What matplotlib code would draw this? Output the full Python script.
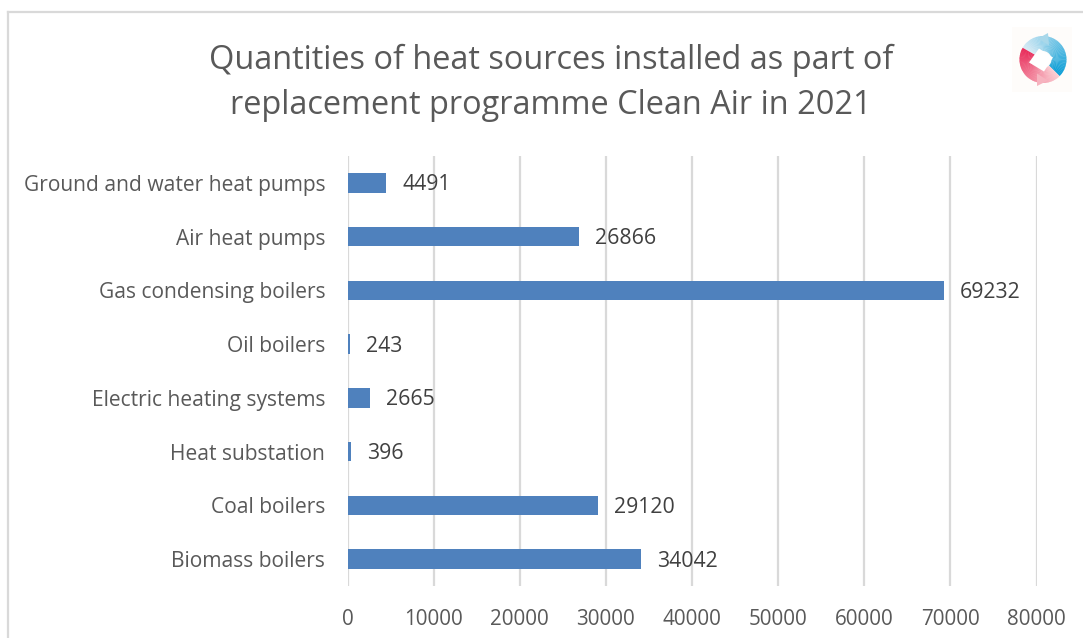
import numpy as np
import matplotlib
matplotlib.use('Agg')
import matplotlib.pyplot as plt
from matplotlib.patches import Wedge, Polygon, Rectangle

categories = ['Biomass boilers', 'Coal boilers', 'Heat substation', 'Electric heating systems',
              'Oil boilers', 'Gas condensing boilers', 'Air heat pumps', 'Ground and water heat pumps']
values = [34042, 29120, 396, 2665, 243, 69232, 26866, 4491]
x_ticks = [0, 10000, 20000, 30000, 40000, 50000, 60000, 70000, 80000]
title = 'Quantities of heat sources installed as part of\nreplacement programme Clean Air in 2021'

W, H = 1083, 638
plt.rcParams['font.family'] = 'Open Sans'
TEXT = '#595959'
GRID = '#d9d9d9'

fig = plt.figure(figsize=(W / 100, H / 100), dpi=100)

# axes box placed in pixels, y measured from the top of the picture
ax = fig.add_axes([347.5 / W, 1 - 586 / H, (1036.5 - 347.5) / W, (586 - 156) / H])
y = np.arange(len(categories))
ax.barh(y, values, height=0.36, color='#4f81bd', zorder=3)
ax.set_xlim(0, 80000)
ax.set_ylim(-0.5, 7.5)
ax.set_xticks(x_ticks)
ax.set_yticks(y)
ax.set_yticklabels(categories)
ax.grid(axis='x', color=GRID, linewidth=1.6, zorder=0)
ax.tick_params(axis='y', length=0, labelsize=15.1, labelcolor=TEXT, pad=16)
ax.tick_params(axis='x', length=0, labelsize=14.9, labelcolor=TEXT, pad=16.5)
for s in ax.spines.values():
    s.set_visible(False)

for i, v in enumerate(values):
    ax.annotate(str(v), (v, i), xytext=(16, -2), textcoords='offset pixels',
                va='center', ha='left', fontsize=15.3, color='#404040', zorder=4)

fig.text(551 / W, 1 - 83 / H, title, ha='center', va='center', fontsize=23.4,
         color=TEXT, linespacing=1.5)

# outer chart frame, left and top only are visible
fig.add_artist(plt.Line2D([7.5 / W, 7.5 / W], [0, 1 - 12 / H], color=GRID, lw=1.6))
fig.add_artist(plt.Line2D([7.5 / W, 1], [1 - 12 / H, 1 - 12 / H], color=GRID, lw=1.6))

# logo: two gradient arrows chasing each other, axes units are pixels
logo = fig.add_axes([1012 / W, 1 - 92 / H, 60 / W, 65 / H])
logo.set_xlim(-30, 30)
logo.set_ylim(-32.5, 32.5)
logo.axis('off')
logo.add_patch(Rectangle((-30, -32.5), 60, 65, color='#fefcfa', lw=0))
blue1, blue2 = np.array([0.84, 0.92, 0.96]), np.array([0.05, 0.62, 0.84])
red1, red2 = np.array([0.91, 0.18, 0.36]), np.array([0.98, 0.80, 0.82])
for k in range(48):
    t = k / 47
    a = 150 - t * 190
    logo.add_patch(Wedge((1, 0), 23.5, a - 5, a, width=15, color=blue1 + (blue2 - blue1) * t, lw=0))
    b = 150 + t * 160
    logo.add_patch(Wedge((1, 0), 23.5, b, b + 5, width=15, color=red1 + (red2 - red1) * t, lw=0))
logo.add_patch(Polygon([[-4, 21], [6, 26.5], [7, 14]], color='#a9d8ea', lw=0))
logo.add_patch(Polygon([[-5, -26.5], [6, -21], [-5, -14]], color='#f6b3bf', lw=0))
logo.add_patch(Polygon([[-3, 11], [11, 2], [2, -12], [-13, -3]], color='white', lw=0))

fig.savefig('out.png', dpi=100)
